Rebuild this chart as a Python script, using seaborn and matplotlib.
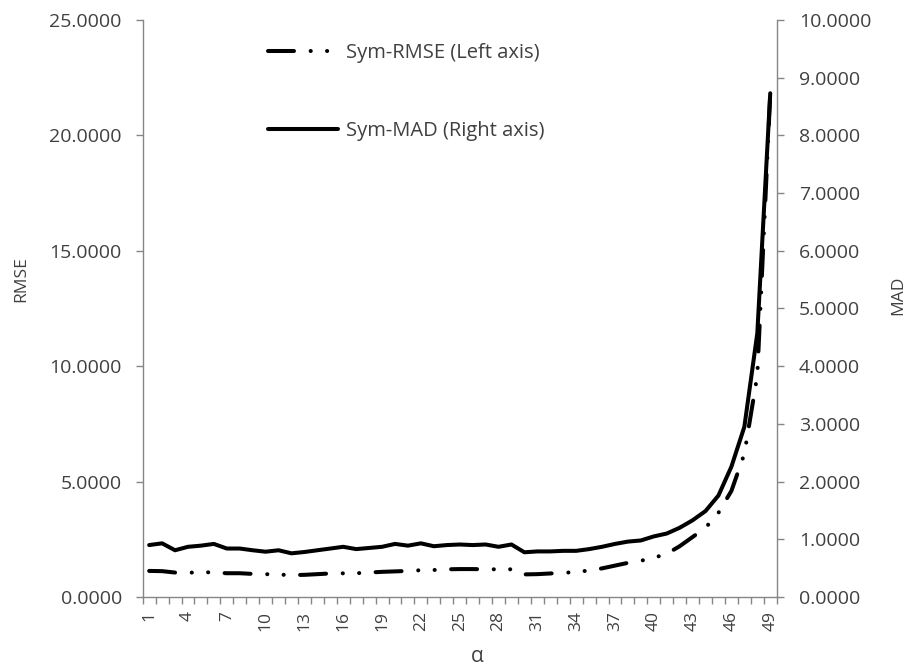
import matplotlib
matplotlib.use("Agg")
import matplotlib.pyplot as plt
import seaborn as sns
import pandas as pd
import numpy as np

alpha = list(range(1, 50))
rmse = [1.13, 1.12, 1.06, 1.05, 1.08, 1.06, 1.03, 1.03, 1.00, 0.99,
        0.97, 0.95, 0.96, 0.99, 1.02, 1.025, 1.03, 1.06, 1.09, 1.11,
        1.13, 1.16, 1.17, 1.20, 1.21, 1.21, 1.20, 1.20, 1.20, 0.98,
        0.99, 1.02, 1.05, 1.08, 1.15, 1.24, 1.36, 1.48, 1.57, 1.70,
        1.87, 2.20, 2.60, 3.00, 3.65, 4.60, 6.20, 9.60, 21.80]
mad = [0.90, 0.93, 0.81, 0.87, 0.89, 0.92, 0.84, 0.84, 0.81, 0.785,
       0.81, 0.757, 0.78, 0.81, 0.84, 0.87, 0.83, 0.85, 0.87, 0.92,
       0.89, 0.93, 0.88, 0.90, 0.91, 0.90, 0.91, 0.87, 0.91, 0.775,
       0.79, 0.79, 0.80, 0.80, 0.83, 0.87, 0.92, 0.96, 0.98, 1.05,
       1.10, 1.20, 1.33, 1.49, 1.76, 2.26, 2.95, 4.57, 8.73]
left_ticks = [0, 5, 10, 15, 20, 25]
right_ticks = list(range(0, 11))
xtick_labels = list(range(1, 50, 3))

df = pd.DataFrame({"alpha": alpha, "RMSE": rmse, "MAD": mad})

sns.set_style("white")
plt.rcParams["font.family"] = ["Open Sans", "DejaVu Sans"]
plt.rcParams["lines.scale_dashes"] = False

TXT = "#404040"
AX = "#868686"

fig = plt.figure(figsize=(9.06, 6.66), dpi=100)
ax = fig.add_axes([0.1575, 0.1036, 0.6998, 0.8664])
ax2 = ax.twinx()

sns.lineplot(data=df, x="alpha", y="RMSE", ax=ax, color="black", linewidth=2.9,
             label="Sym-RMSE (Left axis)", legend=False)
l1 = ax.lines[-1]
l1.set_dashes([18.7, 12.0, 0.1, 11.7, 0.1, 11.8])
l1.set_dash_capstyle("round")
sns.lineplot(data=df, x="alpha", y="MAD", ax=ax2, color="black", linewidth=2.9,
             label="Sym-MAD (Right axis)", legend=False)
l2 = ax2.lines[-1]
l2.set_solid_capstyle("round")
l2.set_solid_joinstyle("round")

ax.set_xlim(0.5, 49.5)
ax.set_ylim(0, 25)
ax2.set_ylim(0, 10)

ax.set_yticks(left_ticks)
ax.set_yticklabels([f"{v:.4f}" for v in left_ticks])
ax2.set_yticks(right_ticks)
ax2.set_yticklabels([f"{v:.4f}" for v in right_ticks])

ax.set_xticks(xtick_labels)
ax.set_xticklabels([str(v) for v in xtick_labels], rotation=90)
ax.set_xticks(np.arange(0.5, 50, 1.0), minor=True)
ax.tick_params(axis="x", which="major", length=0, pad=10, labelsize=12.5, labelcolor=TXT)
ax.tick_params(axis="x", which="minor", length=5, width=1, color=AX, direction="out", bottom=True)
ax.tick_params(axis="y", length=5, width=1, color=AX, direction="out", left=True,
               labelsize=14, labelcolor=TXT, pad=10)
ax2.tick_params(axis="y", length=5, width=1, color=AX, direction="out", right=True,
                labelsize=14, labelcolor=TXT, pad=11)

for a in (ax, ax2):
    a.spines["top"].set_visible(False)
    for s in ("left", "right", "bottom"):
        a.spines[s].set_color(AX)
        a.spines[s].set_linewidth(1)
ax.spines["right"].set_visible(False)
ax2.spines["left"].set_visible(False)
ax2.spines["bottom"].set_visible(False)
ax.grid(False)
ax2.grid(False)

ax.set_xlabel("")
ax.set_ylabel("")
ax2.set_ylabel("")
fig.text(477 / 906, 1 - 656 / 666, "α", fontsize=15, color=TXT, ha="center", va="center")
fig.text(21 / 906, 1 - 279 / 666, "RMSE", fontsize=12.5, color=TXT, ha="center",
         va="center", rotation=90)
fig.text(898 / 906, 1 - 295 / 666, "MAD", fontsize=12.5, color=TXT, ha="center",
         va="center", rotation=90)

handles = [l1, l2]
labels = ["Sym-RMSE (Left axis)", "Sym-MAD (Right axis)"]
leg = ax2.legend(handles, labels, loc="upper left",
                 bbox_to_anchor=(268 / 906, 1 - 43 / 666),
                 bbox_transform=fig.transFigure, frameon=False,
                 fontsize=14.5, handlelength=3.5, handletextpad=0.35,
                 labelspacing=2.9, borderpad=0, borderaxespad=0)
for t in leg.get_texts():
    t.set_color(TXT)

fig.savefig("out.png", dpi=100)
